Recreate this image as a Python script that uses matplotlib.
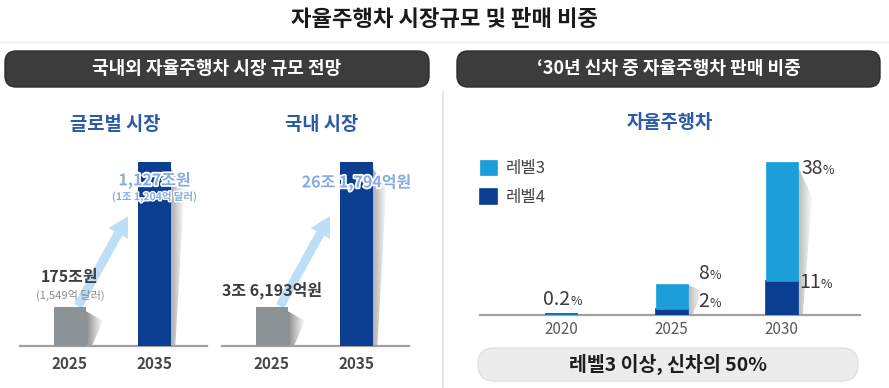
import numpy as np
import matplotlib
matplotlib.use('Agg')
import matplotlib.pyplot as plt
from matplotlib.patches import FancyBboxPatch, FancyArrow, Polygon
import matplotlib.patheffects as pe

plt.rcParams['font.family'] = ['Noto Sans CJK KR', 'DejaVu Sans']

# ---- data ----
title = '자율주행차 시장규모 및 판매 비중'
left_header = '국내외 자율주행차 시장 규모 전망'
right_header = '\u201830년 신차 중 자율주행차 판매 비중'

years_left = ['2025', '2035']
global_heights = [21, 100]      # bar height as drawn, relative to the tallest
domestic_heights = [21, 100]
global_labels = ['175조원', '1,127조원']
global_sub = ['(1,549억 달러)', '(1조 1,204억 달러)']
domestic_labels = ['3조 6,193억원', '26조 1,794억원']

years_right = ['2020', '2025', '2030']
level3 = [0, 8, 38]
level4 = [0.2, 2, 11]
bottom_note = '레벨3 이상, 신차의 50%'

W, H = 889, 388
GRAY_BAR = '#8c9396'
DARK_BLUE = '#0b3d91'
LIGHT_BLUE = '#1c9ed8'
TITLE_BLUE = '#2b5aa8'
PALE = '#86ace2'

fig = plt.figure(figsize=(W / 100, H / 100), dpi=100)

# overlay in pixel units, kept underneath the chart axes
ov = fig.add_axes([0, 0, 1, 1])
ov.set_xlim(0, W)
ov.set_ylim(H, 0)
ov.axis('off')
ov.set_zorder(-1)


def px_axes(x0, x1, ybase, ytop):
    return fig.add_axes([x0 / W, (H - ybase) / H, (x1 - x0) / W, (ybase - ytop) / H])


def add_shadow(ax, xr, top, dx, dy, dark='#8a8a8a'):
    # soft grey wedge on the right side of a bar
    poly = Polygon([(xr, top), (xr + dx, top - dy), (xr + dx * 0.35, 0), (xr, 0)],
                   closed=True, facecolor='none', edgecolor='none')
    ax.add_patch(poly)
    grad = np.linspace(0, 1, 64)[None, :]
    img = ax.imshow(grad, extent=[xr, xr + dx, 0, top], aspect='auto',
                    cmap=matplotlib.colors.LinearSegmentedColormap.from_list('s', [dark, '#ffffff']),
                    alpha=0.8, zorder=1, interpolation='bilinear')
    img.set_clip_path(poly)


def style_axis(ax, xlim, ylim):
    ax.set_xlim(*xlim)
    ax.set_ylim(*ylim)
    for s in ['left', 'right', 'top']:
        ax.spines[s].set_visible(False)
    ax.spines['bottom'].set_color('#a0a0a0')
    ax.spines['bottom'].set_linewidth(1.6)
    ax.set_yticks([])
    ax.tick_params(axis='x', length=0)
    ax.patch.set_alpha(0)


# ---- left: two market charts ----
bw = 0.38
for (x0, x1), heights, labels, subs in [((20, 207), global_heights, global_labels, global_sub),
                                        ((222, 409), domestic_heights, domestic_labels, None)]:
    ax = px_axes(x0, x1, 346, 140)
    xs = np.arange(len(heights))
    ax.bar(xs, heights, width=bw, color=[GRAY_BAR, DARK_BLUE], zorder=3)
    for i, h in enumerate(heights):
        add_shadow(ax, i + bw / 2, h * (0.97 if i else 0.9), 0.16 if i else 0.2,
                   h * 0.12 if i else h * 0.25, dark='#9a9a9a' if i else '#6f6f6f')
    style_axis(ax, (-0.59, 1.62), (0, 112))
    ax.set_xticks(xs, years_left, fontsize=11, color='#474747', fontweight='bold')
    ax.tick_params(axis='x', pad=7)

    if subs:
        ax.annotate(labels[0], (0, heights[0]), xytext=(0, 22), textcoords='offset points',
                    ha='center', va='center', fontsize=11.5, color='#3c3c3c', fontweight='bold',
                    zorder=6)
        ax.annotate(subs[0], (0, heights[0]), xytext=(0, 8.5), textcoords='offset points',
                    ha='center', va='center', fontsize=8, color='#8a8a8a', zorder=6)
        ax.annotate(labels[1], (1, heights[1]), xytext=(0, -13), textcoords='offset points',
                    ha='center', va='center', fontsize=11.5, color=PALE, fontweight='bold', zorder=6,
                    path_effects=[pe.withStroke(linewidth=2.5, foreground='white')])
        ax.annotate(subs[1], (1, heights[1]), xytext=(0, -25), textcoords='offset points',
                    ha='center', va='center', fontsize=7.5, color=PALE, fontweight='bold', zorder=6,
                    path_effects=[pe.withStroke(linewidth=2, foreground='white')])
    else:
        ax.annotate(labels[0], (0, heights[0]), xytext=(0, 12), textcoords='offset points',
                    ha='center', va='center', fontsize=11.5, color='#3c3c3c', fontweight='bold',
                    zorder=6)
        ax.annotate(labels[1], (1, heights[1]), xytext=(0, -14.5), textcoords='offset points',
                    ha='center', va='center', fontsize=11.5, color=PALE, fontweight='bold', zorder=6,
                    path_effects=[pe.withStroke(linewidth=2.5, foreground='white')])

# ---- right: share of new cars ----
axr = px_axes(480, 860, 315, 140)
xr = np.arange(len(years_right))
bw2 = 0.29
b4 = axr.bar(xr, level4, width=bw2, color=DARK_BLUE, edgecolor=DARK_BLUE, linewidth=1.2,
             zorder=3, label='레벨4')
b3 = axr.bar(xr, level3, width=bw2, bottom=level4, color=LIGHT_BLUE, edgecolor=LIGHT_BLUE,
             linewidth=0.5, zorder=3, label='레벨3')
for i in range(len(xr)):
    tot = level3[i] + level4[i]
    if level3[i] > 0:
        add_shadow(axr, i + bw2 / 2, tot * 0.97, 0.13, tot * 0.2, dark='#a8a8a8')
style_axis(axr, (-0.74, 2.71), (0, 56))
axr.set_xticks(xr, years_right, fontsize=11, color='#5a5a5a')
axr.tick_params(axis='x', pad=4.5)


def pct_label(ax, x, y, num, dx, dy):
    ax.annotate(num, (x, y), xytext=(dx, dy), textcoords='offset points', ha='right',
                va='baseline', fontsize=14, color='#3a3a3a', zorder=6)
    ax.annotate('%', (x, y), xytext=(dx, dy), textcoords='offset points', ha='left',
                va='baseline', fontsize=9, color='#3a3a3a', zorder=6)


for i in range(len(xr)):
    tot = level3[i] + level4[i]
    if level3[i] > 0:
        pct_label(axr, i + bw2 / 2, tot, f'{level3[i]:g}', 15.5 if i == 1 else 18,
                  3.5 if i == 1 else -8.5)
        pct_label(axr, i + bw2 / 2, level4[i], f'{level4[i]:g}', 15.5 if i == 1 else 16.5,
                  1.5 if i == 1 else -5.5)
    else:
        pct_label(axr, i, tot, f'{level4[i]:g}', 6.5, 7)

axr.legend([b3, b4], ['레벨3', '레벨4'], loc='upper left', bbox_to_anchor=(480 / W, 1 - 160 / H),
           bbox_transform=fig.transFigure, frameon=False, fontsize=12, handlelength=1.0,
           handleheight=1.0, handletextpad=0.55, labelspacing=0.7, borderpad=0, borderaxespad=0,
           labelcolor='#444444')

# ---- overlay content: headers, titles, arrows ----
ov.text(W / 2, 20, title, ha='center', va='center', fontsize=16, fontweight='bold', color='#1a1a1a')
ov.plot([0, W], [42, 42], color='#efefef', lw=1)

for (x0, x1), txt in [((5, 429), left_header), ((457, 880), right_header)]:
    ov.add_patch(FancyBboxPatch((x0, 51), x1 - x0, 36, boxstyle='round,pad=0,rounding_size=11',
                                facecolor='#3c3c3c', edgecolor='#2c2c2c', lw=1))
    ov.text((x0 + x1) / 2, 69, txt, ha='center', va='center', fontsize=13, color='white',
            fontweight='bold')

ov.plot([443, 443], [92, 388], color='#e2e2e2', lw=1.2)

ov.text(115, 124, '글로벌 시장', ha='center', va='center', fontsize=13.5, fontweight='bold', color=TITLE_BLUE)
ov.text(322, 124, '국내 시장', ha='center', va='center', fontsize=13.5, fontweight='bold', color=TITLE_BLUE)
ov.text(670, 122, '자율주행차', ha='center', va='center', fontsize=13.5, fontweight='bold', color=TITLE_BLUE)

for tail, head in [((78, 306), (128, 216)), ((280, 306), (330, 216))]:
    ov.add_patch(FancyArrow(tail[0], tail[1], head[0] - tail[0], head[1] - tail[1], width=9,
                            head_width=22, head_length=20, length_includes_head=True,
                            color='#b9ddf7', lw=0, alpha=0.95))

ov.add_patch(FancyBboxPatch((478, 348), 380, 33, boxstyle='round,pad=0,rounding_size=16',
                            facecolor='#ececec', edgecolor='#e2e2e2', lw=1))
ov.text(668, 364, bottom_note, ha='center', va='center', fontsize=14, fontweight='bold', color='#1e1e1e')

fig.savefig('out.png', dpi=100)
